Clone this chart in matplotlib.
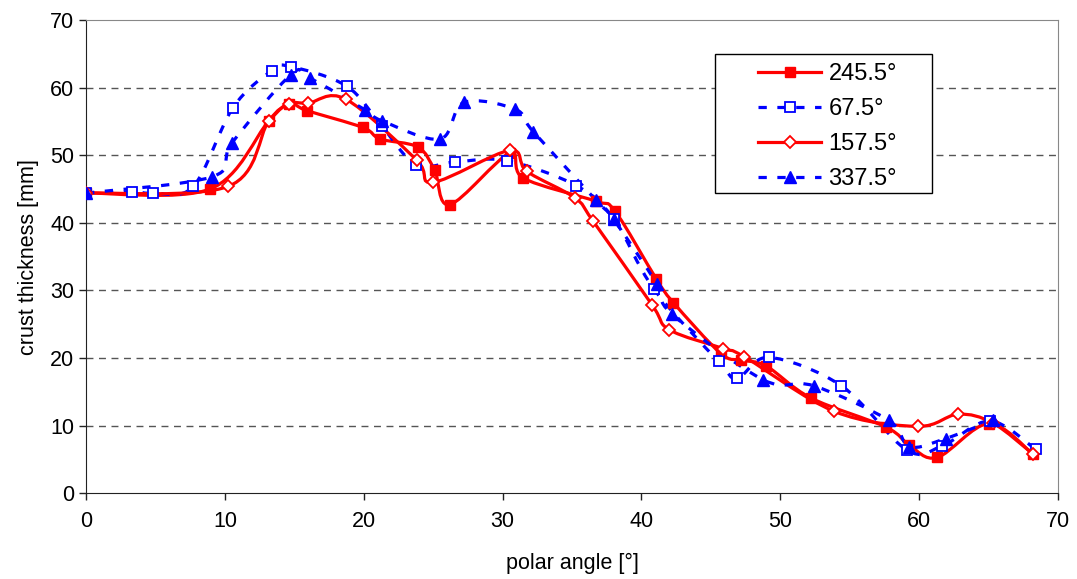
import matplotlib
matplotlib.use("Agg")
import matplotlib.pyplot as plt
from matplotlib.path import Path
from matplotlib.patches import PathPatch, Rectangle
from matplotlib.lines import Line2D

plt.rcParams['font.family'] = ['Liberation Sans', 'DejaVu Sans']

# data: polar angle [deg] vs crust thickness [mm]
x_245 = [0, 8.93, 13.14, 14.65, 15.9, 19.93, 21.18, 23.9, 25.1, 26.2, 30.5, 31.5,
         36.7, 38.1, 41.07, 42.3, 45.7, 47.2, 49.0, 52.2, 57.6, 59.3, 61.3, 65.0, 68.2]
y_245 = [44.4, 45.0, 55.0, 57.6, 56.6, 54.1, 52.4, 51.2, 47.8, 42.7, 50.3, 46.6,
         43.2, 41.7, 31.7, 28.2, 20.7, 19.7, 18.8, 14.1, 9.8, 7.1, 5.3, 10.3, 5.8]

x_67 = [0, 3.3, 4.85, 7.73, 10.57, 13.38, 14.75, 18.78, 21.3, 23.78, 26.6, 30.3,
        35.3, 38.0, 40.9, 45.55, 46.9, 49.2, 54.4, 59.1, 61.65, 65.1, 68.4]
y_67 = [44.4, 44.6, 44.4, 45.4, 57.0, 62.5, 63.1, 60.2, 54.3, 48.6, 49.0, 49.2,
        45.5, 40.6, 30.2, 19.5, 17.0, 20.1, 15.9, 6.4, 7.0, 10.7, 6.5]

x_157 = [0, 10.25, 13.14, 14.65, 16.0, 18.7, 23.8, 25.0, 30.5, 31.75, 35.2, 36.5,
         40.75, 42.0, 45.9, 47.4, 53.9, 59.9, 62.8, 65.3, 68.2]
y_157 = [44.4, 45.4, 55.0, 57.6, 57.7, 58.3, 49.3, 46.0, 50.7, 47.6, 43.7, 40.3,
         27.9, 24.2, 21.4, 20.2, 12.1, 9.9, 11.7, 10.4, 5.8]

x_337 = [0, 9.06, 10.5, 14.75, 16.1, 20.1, 21.3, 25.5, 27.2, 30.9, 32.2, 36.7,
         38.0, 41.1, 42.2, 48.75, 52.4, 57.8, 59.3, 61.9, 65.3]
y_337 = [44.4, 46.8, 51.8, 61.9, 61.4, 56.7, 55.1, 52.4, 57.8, 56.8, 53.5, 43.4,
         40.5, 31.0, 26.5, 16.8, 15.9, 10.8, 6.9, 8.1, 10.8]

labels = ['245.5°', '67.5°', '157.5°', '337.5°']


def smooth_path(xs, ys):
    # Excel-like smoothed line: cubic Bezier through every data point
    pts = list(zip(xs, ys))
    n = len(pts)
    verts = [pts[0]]
    codes = [Path.MOVETO]
    for i in range(n - 1):
        p0 = pts[i - 1] if i > 0 else pts[i]
        p1 = pts[i]
        p2 = pts[i + 1]
        p3 = pts[i + 2] if i + 2 < n else pts[i + 1]
        c1 = (p1[0] + (p2[0] - p0[0]) / 6, p1[1] + (p2[1] - p0[1]) / 6)
        c2 = (p2[0] - (p3[0] - p1[0]) / 6, p2[1] - (p3[1] - p1[1]) / 6)
        verts += [c1, c2, p2]
        codes += [Path.CURVE4] * 3
    return Path(verts, codes)


fig = plt.figure(figsize=(10.77, 5.79), dpi=100)
ax = fig.add_axes([0.0799, 0.148, 0.9025, 0.8175])

red = '#ff0000'
blue = '#0000ff'
dash = (0, (2.6, 3.3))

styles = [
    (x_245, y_245, red, '-', dict(marker='s', ms=7, mfc=red, mec=red)),
    (x_67, y_67, blue, dash, dict(marker='s', ms=6.5, mfc='white', mec=blue, mew=1.3)),
    (x_157, y_157, red, '-', dict(marker='D', ms=6, mfc='white', mec=red, mew=1.3)),
    (x_337, y_337, blue, dash, dict(marker='^', ms=8.5, mfc=blue, mec=blue)),
]

handles = []
for (xs, ys, col, ls, mk), lab in zip(styles, labels):
    patch = PathPatch(smooth_path(xs, ys), facecolor='none', edgecolor=col,
                      lw=2.3, linestyle=ls, zorder=2)
    ax.add_patch(patch)
    ax.plot(xs, ys, linestyle='none', zorder=3, **mk)
    handles.append(Line2D([], [], color=col, lw=2.3, linestyle=ls, **mk))

ax.set_xlim(0, 70)
ax.set_ylim(0, 70)
ax.set_xticks(range(0, 71, 10))
ax.set_yticks(range(0, 71, 10))

# horizontal dashed gridlines
for v in range(10, 70, 10):
    ax.axhline(v, color='#555555', lw=1, linestyle=(0, (5, 4)), zorder=1)

for s in ['top', 'right']:
    ax.spines[s].set_color('#888888')
for s in ['left', 'bottom']:
    ax.spines[s].set_color('#222222')
ax.tick_params(direction='out', length=5, width=1, labelsize=15.5, colors='#222222',
               labelcolor='black')
ax.tick_params(axis='x', pad=8)

ax.set_xlabel('polar angle [°]', fontsize=15.5, labelpad=15)
ax.set_ylabel('crust thickness [mm]', fontsize=15.5, labelpad=8)

# legend box drawn separately so its padding can be wider than the legend's own
ax.add_patch(Rectangle((0.647, 0.634), 0.223, 0.2935, transform=ax.transAxes,
                       facecolor='white', edgecolor='black', lw=1, zorder=4))
leg = ax.legend(handles, labels, loc='upper left', bbox_to_anchor=(0.691, 0.909),
                fontsize=17, frameon=False, handlelength=2.7, labelspacing=0.55,
                borderpad=0, handletextpad=0.3, borderaxespad=0)
leg.set_zorder(5)

fig.savefig('out.png', dpi=100)
